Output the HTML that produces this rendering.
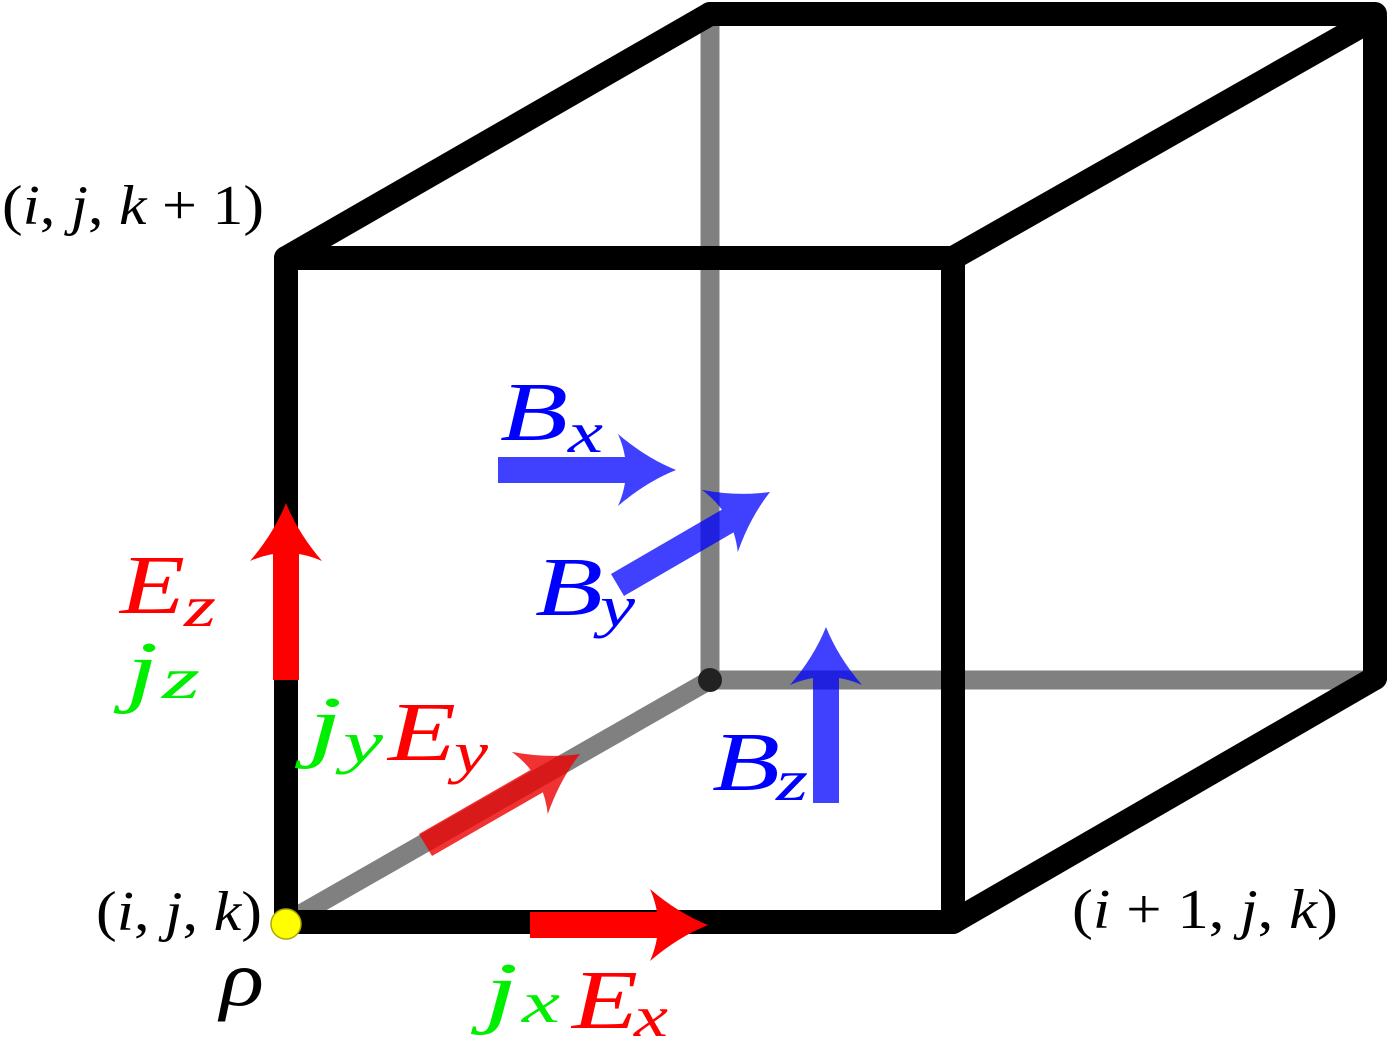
<!DOCTYPE html>
<html><head><meta charset="utf-8"><style>
html,body{margin:0;padding:0;background:#fff;}
svg{display:block;}
text{font-family:"Liberation Serif","DejaVu Serif",serif;}
.it{font-style:italic;}
</style></head><body>
<svg width="1390" height="1043" viewBox="0 0 1390 1043" xmlns="http://www.w3.org/2000/svg">
<defs>
<path id="ah" d="M0,0 Q-30,-12 -58,-36 Q-42,0 -58,36 Q-30,12 0,0 Z"/>
</defs>
<g stroke="#808080" stroke-width="19" stroke-linecap="butt" fill="none">
<line x1="710" y1="20" x2="710" y2="680"/>
<line x1="710" y1="680" x2="1375" y2="680"/>
<line x1="290" y1="920" x2="710" y2="680"/>
</g>
<circle cx="710" cy="680" r="12" fill="#222"/>
<g stroke="#000" stroke-width="24" stroke-linecap="round" stroke-linejoin="round" fill="none">
<polyline points="286,922 286,258 953,258 953,922 286,922"/>
<line x1="286" y1="258" x2="710" y2="14"/>
<line x1="710" y1="14" x2="1375" y2="14"/>
<line x1="953" y1="258" x2="1375" y2="18"/>
<line x1="1375" y1="18" x2="1375" y2="678"/>
<line x1="953" y1="922" x2="1375" y2="678"/>
</g>
<rect x="273" y="535" width="26" height="145" fill="#f00"/>
<use href="#ah" transform="translate(286,503) rotate(-90)" fill="#f00"/>
<rect x="530" y="912" width="145" height="26" fill="#f00"/>
<use href="#ah" transform="translate(708,925)" fill="#f00"/>
<g opacity="0.8">
<path fill="#e00" d="M419,834 L546,761 L559,783 L432,856 Z"/>
<use href="#ah" transform="translate(580,754) rotate(-30)" fill="#e00"/>
</g>
<g opacity="0.75" fill="#00f">
<rect x="498" y="457" width="148" height="26"/>
<use href="#ah" transform="translate(676,470)"/>
<path d="M611,574 L735,502 L748,524 L624,596 Z"/>
<use href="#ah" transform="translate(770,492) rotate(-30)"/>
<rect x="813" y="657" width="26" height="146"/>
<use href="#ah" transform="translate(826,627) rotate(-90)"/>
</g>
<circle cx="286" cy="924" r="15" fill="#ff0" stroke="#aa0" stroke-width="1.5"/>
<g font-size="56" fill="#000">
<text x="2" y="224" textLength="262" lengthAdjust="spacingAndGlyphs">(<tspan class="it">i</tspan>, <tspan class="it">j</tspan>, <tspan class="it">k</tspan> + 1)</text>
<text x="96" y="930" textLength="166" lengthAdjust="spacingAndGlyphs">(<tspan class="it">i</tspan>, <tspan class="it">j</tspan>, <tspan class="it">k</tspan>)</text>
<text x="1072" y="928" textLength="266" lengthAdjust="spacingAndGlyphs">(<tspan class="it">i</tspan> + 1, <tspan class="it">j</tspan>, <tspan class="it">k</tspan>)</text>
</g>
<text x="220" y="1005" font-size="78" class="it" fill="#000" textLength="44" lengthAdjust="spacingAndGlyphs">ρ</text>
<g class="it">
<text x="120" y="613" font-size="84" fill="#f00" textLength="65" lengthAdjust="spacingAndGlyphs">E</text>
<text x="184" y="626" font-size="58" fill="#f00" textLength="32" lengthAdjust="spacingAndGlyphs">z</text>
<text x="126" y="697" font-size="80" fill="#0e0" textLength="32" lengthAdjust="spacingAndGlyphs">j</text>
<text x="162" y="698" font-size="58" fill="#0e0" textLength="38" lengthAdjust="spacingAndGlyphs">z</text>
<text x="308" y="752" font-size="80" fill="#0e0" textLength="34" lengthAdjust="spacingAndGlyphs">j</text>
<text x="343" y="762" font-size="58" fill="#0e0" textLength="40" lengthAdjust="spacingAndGlyphs">y</text>
<text x="388" y="760" font-size="84" fill="#f00" textLength="68" lengthAdjust="spacingAndGlyphs">E</text>
<text x="454" y="772" font-size="58" fill="#f00" textLength="34" lengthAdjust="spacingAndGlyphs">y</text>
<text x="484" y="1018" font-size="80" fill="#0e0" textLength="34" lengthAdjust="spacingAndGlyphs">j</text>
<text x="522" y="1022" font-size="58" fill="#0e0" textLength="38" lengthAdjust="spacingAndGlyphs">x</text>
<text x="572" y="1028" font-size="84" fill="#f00" textLength="66" lengthAdjust="spacingAndGlyphs">E</text>
<text x="634" y="1036" font-size="58" fill="#f00" textLength="34" lengthAdjust="spacingAndGlyphs">x</text>
<text x="500" y="440" font-size="84" fill="#00f" textLength="68" lengthAdjust="spacingAndGlyphs">B</text>
<text x="568" y="452" font-size="58" fill="#00f" textLength="35" lengthAdjust="spacingAndGlyphs">x</text>
<text x="535" y="615" font-size="84" fill="#00f" textLength="68" lengthAdjust="spacingAndGlyphs">B</text>
<text x="600" y="626" font-size="58" fill="#00f" textLength="35" lengthAdjust="spacingAndGlyphs">y</text>
<text x="712" y="790" font-size="84" fill="#00f" textLength="68" lengthAdjust="spacingAndGlyphs">B</text>
<text x="776" y="800" font-size="58" fill="#00f" textLength="32" lengthAdjust="spacingAndGlyphs">z</text>
</g>
</svg>
</body></html>
